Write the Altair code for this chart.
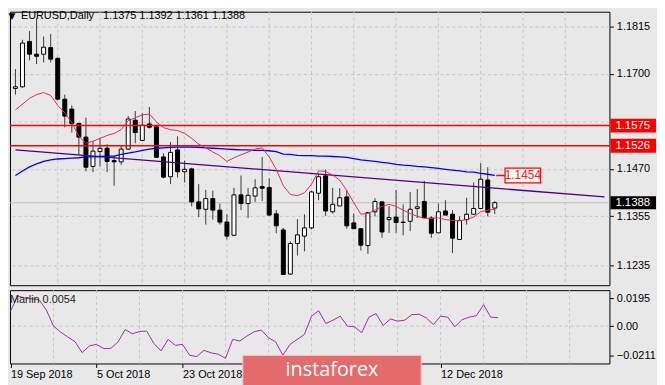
import altair as alt
import pandas as pd

# ---------------- data ----------------
opens = [1.1665, 1.1669, 1.1779, 1.1748, 1.1748, 1.1764, 1.1738, 1.1639, 1.1615, 1.1580,
         1.1547, 1.1476, 1.1512, 1.1520, 1.1490, 1.1487, 1.1518, 1.1588, 1.1539, 1.1579,
         1.1572, 1.1499, 1.1451, 1.1516, 1.1463, 1.1470, 1.1390, 1.1372, 1.1398, 1.1370,
         1.1341, 1.1309, 1.1407, 1.1386, 1.1404, 1.1427, 1.1425, 1.1361, 1.1322, 1.1215,
         1.1289, 1.1307, 1.1327, 1.1411, 1.1453, 1.1366, 1.1380, 1.1402, 1.1339, 1.1325,
         1.1284, 1.1366, 1.1390, 1.1347, 1.1353, 1.1341, 1.1343, 1.1374, 1.1391, 1.1351,
         1.1315, 1.1368, 1.1360, 1.1299, 1.1347, 1.1360, 1.1374, 1.1443, 1.1375]
highs = [1.1712, 1.1783, 1.1804, 1.1836, 1.1791, 1.1797, 1.1740, 1.1650, 1.1624, 1.1582,
         1.1594, 1.1537, 1.1545, 1.1530, 1.1502, 1.1528, 1.1598, 1.1610, 1.1605, 1.1620,
         1.1575, 1.1508, 1.1535, 1.1549, 1.1490, 1.1473, 1.1433, 1.1419, 1.1417, 1.1386,
         1.1360, 1.1424, 1.1454, 1.1424, 1.1445, 1.1499, 1.1447, 1.1370, 1.1327, 1.1294,
         1.1348, 1.1360, 1.1417, 1.1458, 1.1469, 1.1424, 1.1423, 1.1419, 1.1362, 1.1326,
         1.1366, 1.1399, 1.1391, 1.1380, 1.1419, 1.1384, 1.1414, 1.1421, 1.1441, 1.1355,
         1.1386, 1.1394, 1.1370, 1.1355, 1.1400, 1.1437, 1.1484, 1.1474, 1.1392]
lows = [1.1650, 1.1667, 1.1733, 1.1724, 1.1728, 1.1728, 1.1636, 1.1571, 1.1558, 1.1504,
        1.1464, 1.1462, 1.1476, 1.1462, 1.1429, 1.1480, 1.1516, 1.1532, 1.1539, 1.1568,
        1.1497, 1.1447, 1.1433, 1.1449, 1.1437, 1.1379, 1.1353, 1.1335, 1.1347, 1.1335,
        1.1299, 1.1307, 1.1370, 1.1351, 1.1390, 1.1392, 1.1357, 1.1314, 1.1213, 1.1213,
        1.1260, 1.1270, 1.1323, 1.1394, 1.1356, 1.1362, 1.1380, 1.1325, 1.1325, 1.1272,
        1.1264, 1.1355, 1.1303, 1.1315, 1.1315, 1.1309, 1.1319, 1.1351, 1.1351, 1.1303,
        1.1315, 1.1358, 1.1266, 1.1298, 1.1335, 1.1360, 1.1374, 1.1355, 1.1361]
closes = [1.1669, 1.1775, 1.1748, 1.1743, 1.1765, 1.1736, 1.1639, 1.1598, 1.1580, 1.1547,
          1.1474, 1.1513, 1.1520, 1.1488, 1.1487, 1.1518, 1.1591, 1.1558, 1.1576, 1.1571,
          1.1498, 1.1450, 1.1510, 1.1463, 1.1469, 1.1390, 1.1373, 1.1398, 1.1370, 1.1341,
          1.1307, 1.1407, 1.1386, 1.1406, 1.1424, 1.1423, 1.1358, 1.1332, 1.1214, 1.1289,
          1.1310, 1.1327, 1.1414, 1.1451, 1.1368, 1.1384, 1.1400, 1.1332, 1.1325, 1.1285,
          1.1364, 1.1391, 1.1317, 1.1352, 1.1340, 1.1340, 1.1372, 1.1378, 1.1352, 1.1314,
          1.1366, 1.1358, 1.1302, 1.1345, 1.1360, 1.1374, 1.1445, 1.1365, 1.1388]
ma_red = [1.1613, 1.1627, 1.1641, 1.1650, 1.1655, 1.1648, 1.1624, 1.1606, 1.1582, 1.1549,
          1.1532, 1.1537, 1.1544, 1.1551, 1.1556, 1.1565, 1.1587, 1.1594, 1.1601, 1.1603,
          1.1584, 1.1570, 1.1565, 1.1563, 1.1556, 1.1544, 1.1530, 1.1521, 1.1511, 1.1502,
          1.1488, 1.1497, 1.1504, 1.1511, 1.1518, 1.1521, 1.1499, 1.1469, 1.1429, 1.1408,
          1.1405, 1.1412, 1.1433, 1.1465, 1.1464, 1.1455, 1.1443, 1.1417, 1.1388, 1.1360,
          1.1362, 1.1370, 1.1379, 1.1384, 1.1379, 1.1370, 1.1362, 1.1355, 1.1350, 1.1350,
          1.1351, 1.1347, 1.1345, 1.1344, 1.1347, 1.1353, 1.1366, 1.1370, 1.1372]
ma_blue = [1.1454, 1.1465, 1.1475, 1.1482, 1.1488, 1.1492, 1.1494, 1.1495, 1.1496, 1.1497,
           1.1499, 1.1499, 1.1500, 1.1501, 1.1501, 1.1505, 1.1508, 1.1511, 1.1515, 1.1518,
           1.1520, 1.1521, 1.1522, 1.1523, 1.1523, 1.1523, 1.1522, 1.1521, 1.1520, 1.1519,
           1.1518, 1.1517, 1.1516, 1.1516, 1.1515, 1.1515, 1.1514, 1.1512, 1.1506, 1.1505,
           1.1503, 1.1502, 1.1502, 1.1501, 1.1501, 1.1500, 1.1499, 1.1498, 1.1495, 1.1492,
           1.1490, 1.1488, 1.1486, 1.1484, 1.1481, 1.1479, 1.1478, 1.1476, 1.1475, 1.1473,
           1.1471, 1.1469, 1.1467, 1.1465, 1.1463, 1.1462, 1.1459, 1.1457, 1.1454]
marlin = [0.0105, 0.0214, 0.0198, 0.0193, 0.0186, 0.0114, 0.0000, -0.0042, -0.0077, -0.0110,
          -0.0187, -0.0140, -0.0129, -0.0159, -0.0157, -0.0112, -0.0024, -0.0054, -0.0038, -0.0035,
          -0.0122, -0.0175, -0.0094, -0.0136, -0.0129, -0.0206, -0.0215, -0.0171, -0.0189, -0.0199,
          -0.0227, -0.0094, -0.0105, -0.0070, -0.0040, -0.0028, -0.0082, -0.0112, -0.0206, -0.0129,
          -0.0094, -0.0059, 0.0070, 0.0109, 0.0018, 0.0042, 0.0070, 0.0000, -0.0005, -0.0047,
          0.0063, 0.0088, 0.0004, 0.0051, 0.0035, 0.0042, 0.0081, 0.0084, 0.0058, 0.0011,
          0.0070, 0.0063, -0.0005, 0.0046, 0.0063, 0.0074, 0.0151, 0.0063, 0.0060]

trend_idx = [0, 83.56]
trend_price = [1.1516, 1.1402]
level_prices = [1.1575, 1.1526]
level_text = ["1.1575", "1.1526"]
last_price = [1.1388]
last_text = ["1.1388"]
ma_label_price = [1.1454]
ma_label_text = ["1.1454"]

price_ticks = [1.1815, 1.1700, 1.1585, 1.1470, 1.1355, 1.1235]
price_hidden = [1.1585]          # label hidden behind the 1.1575 marker
osc_ticks = [0.0195, 0.0, -0.0211]
date_tick_idx = [0, 12, 24, 36, 48, 60]
date_tick_text = ["19 Sep 2018", "5 Oct 2018", "23 Oct 2018", "", "", "12 Dec 2018"]
grid_idx = list(range(6, 84, 6))

header_text = "EURUSD,Daily\u00a0\u00a0 1.1375 1.1392 1.1361 1.1388"
indicator_label = "Marlin 0.0054"
logo_text = "instaforex"

# ---------------- layout / style ----------------
W, H1, H2 = 605, 276, 74
FONT = "Liberation Sans"
BG = "#e8e8e8"
GRID = "#c4c4c4"

n = len(opens)
candles = pd.DataFrame({
    "i": list(range(n)), "o": opens, "h": highs, "l": lows, "c": closes,
    "mr": ma_red, "mb": ma_blue, "m": marlin,
})
grid_df = pd.DataFrame({"g": grid_idx})
trend_df = pd.DataFrame({"i": trend_idx, "p": trend_price})
levels_df = pd.DataFrame({"p": level_prices, "t": level_text})
last_df = pd.DataFrame({"p": last_price, "t": last_text})
mal_df = pd.DataFrame({"p": ma_label_price, "t": ma_label_text,
                       "x0": [68.2], "x1": [69.45], "x2": [74.5], "xm": [71.98]})

xscale = alt.Scale(domain=[-0.07, 83.56], nice=False, zero=False)
yscale = alt.Scale(domain=[1.1188, 1.1851], nice=False, zero=False)
oscale = alt.Scale(domain=[-0.0264, 0.0254], nice=False, zero=False)

hide_expr = " || ".join(f"abs(datum.value - {v}) < 0.00001" for v in price_hidden)
yaxis = alt.Axis(orient="right", values=price_ticks,
                 labelExpr=f"({hide_expr}) ? '' : format(datum.value, '.4f')", title=None,
                 grid=True, gridDash=[3, 3], gridColor=GRID, domain=False,
                 tickSize=4, tickColor="black", labelPadding=3, labelFont=FONT,
                 labelFontSize=11, labelColor="black", zindex=0)

def X(f):
    return alt.X(f"{f}:Q", scale=xscale, axis=None)

def Y(f):
    return alt.Y(f"{f}:Q", scale=yscale, axis=yaxis)

base = alt.Chart(candles)

vgrid = alt.Chart(grid_df).mark_rule(color=GRID, strokeDash=[3, 3], strokeWidth=1).encode(x=X("g"))
bid = alt.Chart(last_df).mark_rule(color="#c0c0c0", strokeWidth=1).encode(y=Y("p"))
wicks = base.mark_rule(color="#3a3a3a", strokeWidth=1).encode(x=X("i"), y=Y("l"), y2="h:Q")
bodies = base.mark_bar(size=4, stroke="black", strokeWidth=1).encode(
    x=X("i"), y=Y("o"), y2="c:Q",
    fill=alt.condition("datum.c >= datum.o", alt.value("white"), alt.value("black")),
)
levels = alt.Chart(levels_df).mark_rule(color="#ff0000", strokeWidth=1.5).encode(y=Y("p"))
trend = alt.Chart(trend_df).mark_line(color="#4b0082", strokeWidth=1.3, clip=True).encode(x=X("i"), y=Y("p"))
blue = base.mark_line(color="#0000ff", strokeWidth=1.3).encode(x=X("i"), y=Y("mb"))
red = base.mark_line(color="#e8294f", strokeWidth=1).encode(x=X("i"), y=Y("mr"))

header_tri = alt.Chart(pd.DataFrame({"t": ["▼"]})).mark_text(
    font="DejaVu Sans", fontSize=9, color="black", align="center", baseline="middle"
).encode(x=alt.value(2), y=alt.value(4.5), text="t:N")
header = alt.Chart(pd.DataFrame({"t": [header_text]})).mark_text(
    font=FONT, fontSize=11, color="black", align="left", baseline="middle"
).encode(x=alt.value(11), y=alt.value(4.5), text="t:N")

lvl_box = alt.Chart(levels_df).mark_rect(color="#ff0000", yOffset=-7, y2Offset=7).encode(
    x=alt.value(W + 1), x2=alt.value(W + 47), y=Y("p"), y2="p:Q")
lvl_txt = alt.Chart(levels_df).mark_text(font=FONT, fontSize=11.5, color="white", align="left",
                                         baseline="middle").encode(
    x=alt.value(W + 6), y=Y("p"), text="t:N")
last_box = alt.Chart(last_df).mark_rect(color="black", yOffset=-6.5, y2Offset=6.5).encode(
    x=alt.value(W + 1), x2=alt.value(W + 47), y=Y("p"), y2="p:Q")
last_txt = alt.Chart(last_df).mark_text(font=FONT, fontSize=11.5, color="white", align="left",
                                        baseline="middle").encode(
    x=alt.value(W + 6), y=Y("p"), text="t:N")

mal_line = alt.Chart(mal_df).mark_rule(color="#ff0000", strokeWidth=1.5).encode(
    x=X("x0"), x2="x1:Q", y=Y("p"))
mal_box = alt.Chart(mal_df).mark_rect(fill="#f6f6f6", stroke="#ff0000", strokeWidth=1.2,
                                      yOffset=-7.5, y2Offset=7.5).encode(
    x=X("x1"), x2="x2:Q", y=Y("p"), y2="p:Q")
mal_txt = alt.Chart(mal_df).mark_text(font=FONT, fontSize=12, color="#ff2020", align="center",
                                      baseline="middle").encode(
    x=X("xm"), y=Y("p"), text="t:N")

top = alt.layer(
    vgrid, bid, wicks, bodies, levels, trend, blue, red,
    header_tri, header, lvl_box, lvl_txt, last_box, last_txt,
    mal_line, mal_box, mal_txt,
).properties(width=W, height=H1)

# ---------------- indicator panel ----------------
lab_expr = "''"
for idx, txt in reversed(list(zip(date_tick_idx, date_tick_text))):
    lab_expr = f"datum.value == {idx} ? '{txt}' : ({lab_expr})"

xaxis_b = alt.Axis(values=date_tick_idx, labelExpr=lab_expr, labelAlign="left", labelBaseline="top",
                   labelPadding=1, tickSize=4, tickColor="black", domain=False, grid=False,
                   labelFlush=False, labelOverlap=False, labelFont=FONT, labelFontSize=11,
                   labelColor="black", title=None, zindex=0)
oaxis = alt.Axis(orient="right", values=osc_ticks,
                 labelExpr="datum.value == 0 ? '0.00' : format(datum.value, '.4f')",
                 title=None, grid=False, domain=False, tickSize=4, tickColor="black",
                 labelPadding=3, labelFont=FONT, labelFontSize=11, labelColor="black", zindex=0)

def XB(f):
    return alt.X(f"{f}:Q", scale=xscale, axis=xaxis_b)

def YO(f):
    return alt.Y(f"{f}:Q", scale=oscale, axis=oaxis)

vgrid_b = alt.Chart(grid_df).mark_rule(color=GRID, strokeDash=[3, 3], strokeWidth=1).encode(x=XB("g"))
zero_df = pd.DataFrame({"z": [0.0]})
zero = alt.Chart(zero_df).mark_rule(color=GRID, strokeDash=[3, 3], strokeWidth=1).encode(y=YO("z"))
osc = base.mark_line(color="#a028aa", strokeWidth=1).encode(x=XB("i"), y=YO("m"))
osc_lab = alt.Chart(pd.DataFrame({"t": [indicator_label]})).mark_text(
    font=FONT, fontSize=11, color="#222222", align="left", baseline="middle"
).encode(x=alt.value(0), y=alt.value(10), text="t:N")
logo_box = alt.Chart(pd.DataFrame({"t": [logo_text]})).mark_rect(
    fill="#e36b6b", stroke="#f4c0c0", strokeWidth=1
).encode(x=alt.value(235), x2=alt.value(415), y=alt.value(66), y2=alt.value(98))
logo_txt = alt.Chart(pd.DataFrame({"t": [logo_text]})).mark_text(
    font="Open Sans", fontSize=20, color="white", align="center", baseline="middle"
).encode(x=alt.value(325), y=alt.value(81), text="t:N")

bottom = alt.layer(vgrid_b, zero, osc, osc_lab, logo_box, logo_txt).properties(width=W, height=H2)

chart = alt.vconcat(top, bottom, spacing=3).properties(
    padding=0, background=BG
).configure_view(stroke="black", strokeWidth=1, fill=BG)

chart.save("out.html", embed_options={"renderer": "svg", "actions": False})
